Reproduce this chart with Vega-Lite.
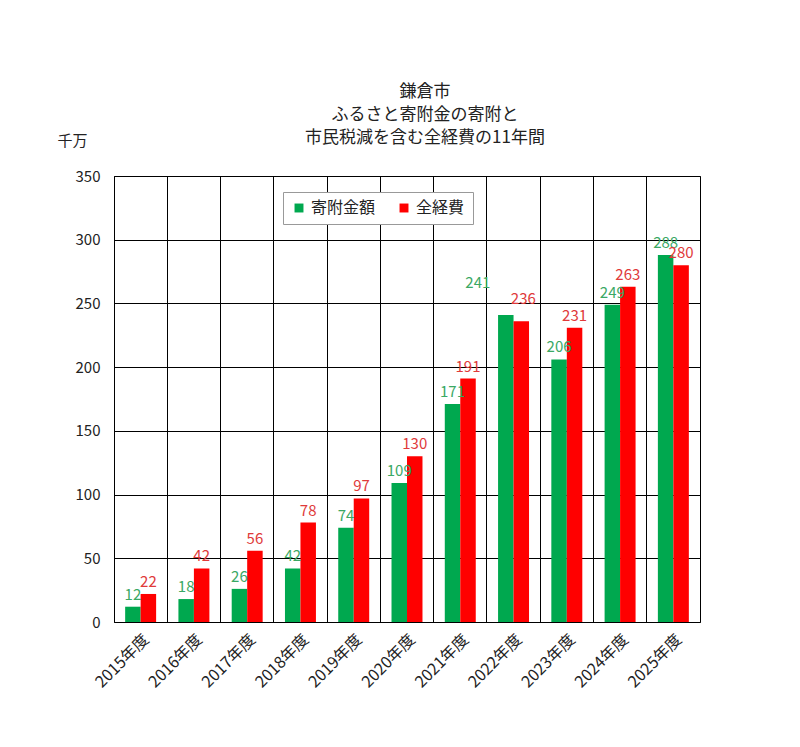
{
  "$schema": "https://vega.github.io/schema/vega-lite/v6.json",
  "autosize": "none",
  "width": 586,
  "height": 446,
  "padding": {"left": 114, "top": 176, "right": 100, "bottom": 125},
  "background": "white",
  "title": {
    "text": ["鎌倉市", "ふるさと寄附金の寄附と", "市民税減を含む全経費の11年間"],
    "font": "Noto Sans CJK JP",
    "fontSize": 17,
    "fontWeight": "normal",
    "color": "#222",
    "lineHeight": 23,
    "anchor": "middle",
    "dx": 18,
    "dy": 24,
    "offset": 10
  },
  "data": {
    "values": [
      {"year": "2015年度", "series": "寄附金額", "value": 12},
      {"year": "2015年度", "series": "全経費", "value": 22},
      {"year": "2016年度", "series": "寄附金額", "value": 18},
      {"year": "2016年度", "series": "全経費", "value": 42},
      {"year": "2017年度", "series": "寄附金額", "value": 26},
      {"year": "2017年度", "series": "全経費", "value": 56},
      {"year": "2018年度", "series": "寄附金額", "value": 42},
      {"year": "2018年度", "series": "全経費", "value": 78},
      {"year": "2019年度", "series": "寄附金額", "value": 74},
      {"year": "2019年度", "series": "全経費", "value": 97},
      {"year": "2020年度", "series": "寄附金額", "value": 109},
      {"year": "2020年度", "series": "全経費", "value": 130},
      {"year": "2021年度", "series": "寄附金額", "value": 171},
      {"year": "2021年度", "series": "全経費", "value": 191},
      {"year": "2022年度", "series": "寄附金額", "value": 241},
      {"year": "2022年度", "series": "全経費", "value": 236},
      {"year": "2023年度", "series": "寄附金額", "value": 206},
      {"year": "2023年度", "series": "全経費", "value": 231},
      {"year": "2024年度", "series": "寄附金額", "value": 249},
      {"year": "2024年度", "series": "全経費", "value": 263},
      {"year": "2025年度", "series": "寄附金額", "value": 288},
      {"year": "2025年度", "series": "全経費", "value": 280}
    ]
  },
  "encoding": {
    "x": {
      "field": "year",
      "type": "nominal",
      "sort": null,
      "scale": {"paddingInner": 0, "paddingOuter": 0},
      "axis": {
        "title": null,
        "labelAngle": -45,
        "labelFont": "Noto Sans CJK JP",
        "labelFontSize": 16,
        "labelColor": "#222",
        "labelPadding": 9,
        "ticks": false,
        "domain": false,
        "grid": true,
        "bandPosition": 0,
        "gridColor": "#000",
        "gridOpacity": 1,
        "gridWidth": 1
      }
    },
    "xOffset": {
      "field": "series",
      "sort": ["寄附金額", "全経費"],
      "scale": {"paddingInner": 0, "paddingOuter": 0.72}
    },
    "y": {
      "field": "value",
      "type": "quantitative",
      "scale": {"domain": [0, 350]},
      "axis": {
        "title": "千万",
        "titleAngle": 0,
        "titleX": -42,
        "titleY": -28,
        "titleAlign": "center",
        "titleFont": "Noto Sans CJK JP",
        "titleFontSize": 15,
        "titleFontWeight": "normal",
        "titleColor": "#222",
        "values": [0, 50, 100, 150, 200, 250, 300, 350],
        "labelFont": "Noto Sans CJK JP",
        "labelFontSize": 15,
        "labelColor": "#222",
        "labelPadding": 14,
        "ticks": false,
        "domain": false,
        "grid": true,
        "gridColor": "#000",
        "gridOpacity": 1,
        "gridWidth": 1
      }
    }
  },
  "layer": [
    {
      "mark": {"type": "bar"},
      "encoding": {
        "color": {
          "field": "series",
          "type": "nominal",
          "sort": ["寄附金額", "全経費"],
          "scale": {"domain": ["寄附金額", "全経費"], "range": ["#00a84f", "#ff0000"]},
          "legend": {
            "title": null,
            "orient": "none",
            "legendX": 169,
            "legendY": 16,
            "direction": "horizontal",
            "symbolType": "square",
            "symbolSize": 80,
            "symbolStrokeWidth": 0,
            "labelFont": "Noto Sans CJK JP",
            "labelFontSize": 16,
            "labelColor": "#222",
            "columnPadding": 20,
            "padding": 8,
            "strokeColor": "#999",
            "fillColor": "white"
          }
        }
      }
    },
    {
      "transform": [{"filter": "datum.year !== '2022年度'"}],
      "mark": {"type": "text", "baseline": "bottom", "dy": -4, "font": "Noto Sans CJK JP", "fontSize": 15},
      "encoding": {
        "text": {"field": "value", "type": "quantitative"},
        "color": {
          "field": "series",
          "type": "nominal",
          "scale": {"domain": ["寄附金額", "全経費"], "range": ["#3aa864", "#e03a3a"]},
          "legend": null
        }
      }
    },
    {
      "transform": [{"filter": "datum.year === '2022年度' && datum.series === '寄附金額'"}],
      "mark": {"type": "text", "baseline": "bottom", "dx": -28, "dy": -24, "font": "Noto Sans CJK JP", "fontSize": 15, "color": "#3aa864"},
      "encoding": {
        "text": {"field": "value", "type": "quantitative"}
      }
    },
    {
      "transform": [{"filter": "datum.year === '2022年度' && datum.series === '全経費'"}],
      "mark": {"type": "text", "baseline": "bottom", "dx": 2, "dy": -14, "font": "Noto Sans CJK JP", "fontSize": 15, "color": "#e03a3a"},
      "encoding": {
        "text": {"field": "value", "type": "quantitative"}
      }
    }
  ],
  "resolve": {"scale": {"color": "independent"}},
  "config": {
    "view": {"stroke": "#000", "strokeWidth": 1}
  }
}
